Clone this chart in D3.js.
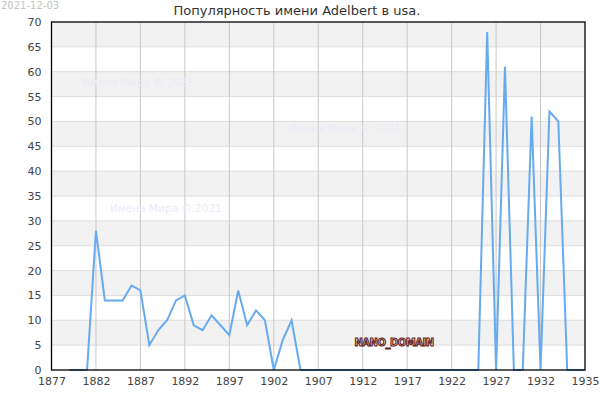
<!DOCTYPE html>
<html><head><meta charset="utf-8">
<script src="https://cdn.jsdelivr.net/npm/d3@7"></script>
<style>body{margin:0;background:#fff}svg{display:block;font-family:"DejaVu Sans",sans-serif}</style>
</head><body><svg id="c" width="600" height="400"></svg>
<script>
const years = [1879,1880,1881,1882,1883,1884,1885,1886,1887,1888,1889,1890,1891,1892,1893,1894,1895,1896,1897,1898,1899,1900,1901,1902,1903,1904,1905,1906,1907,1908,1909,1910,1911,1912,1913,1914,1915,1916,1917,1918,1919,1920,1921,1922,1923,1924,1925,1926,1927,1928,1929,1930,1931,1932,1933,1934,1935,1936,1937];
const counts = [0,0,0,28,14,14,14,17,16,5,8,10,14,15,9,8,11,9,7,16,9,12,10,0,6,10,0,0,0,0,0,0,0,0,0,0,0,0,0,0,0,0,0,0,0,0,0,68,0,61,0,0,51,0,52,50,0,0,0];
const xTickValues = [1877,1882,1887,1892,1897,1902,1907,1912,1917,1922,1927,1932,1937];
const xTickLabels = ["1877","1882","1887","1892","1897","1902","1907","1912","1917","1922","1927","1932","1935"];
const yTickValues = [0,5,10,15,20,25,30,35,40,45,50,55,60,65,70];
const title = "Популярность имени Adelbert в usa.";
const dateLabel = "2021-12-03";
const watermark = "Имена Мира © 2021";

const svg = d3.select("#c");
const L=51.5, R=585, T=22, B=370;
const x = d3.scaleLinear().domain([1877,1937]).range([L,R]);
const y = d3.scaleLinear().domain([0,70]).range([B,T]);

const bands = d3.range(5,70,10);
svg.append("g").selectAll("rect").data(bands).join("rect")
  .attr("x",L).attr("width",R-L)
  .attr("y",d=>y(d+5)).attr("height",d=>y(d)-y(d+5))
  .attr("fill","#f2f2f2");
svg.append("g").selectAll("line").data(yTickValues.slice(1,-1)).join("line")
  .attr("x1",L).attr("x2",R).attr("y1",d=>y(d)).attr("y2",d=>y(d))
  .attr("stroke","#dedede").attr("stroke-width",1);
svg.append("g").selectAll("line").data(xTickValues.slice(1,-1)).join("line")
  .attr("x1",d=>x(d)).attr("x2",d=>x(d)).attr("y1",T).attr("y2",B)
  .attr("stroke","#c8c8c8").attr("stroke-width",1);

const wm = [[82,86],[289,132],[110,212]];
svg.append("g").selectAll("text").data(wm).join("text")
  .attr("x",d=>d[0]).attr("y",d=>d[1]).text(watermark)
  .attr("font-size",10.5).attr("fill","#ebebf7");

svg.append("path").datum(years.map((yr,i)=>[yr,counts[i]]))
  .attr("d",d3.line().x(d=>x(d[0])).y(d=>y(d[1])))
  .attr("fill","none").attr("stroke","#66aaf0").attr("stroke-width",2).attr("stroke-linejoin","miter");

svg.append("rect").attr("x",L).attr("y",T).attr("width",R-L).attr("height",B-T)
  .attr("fill","none").attr("stroke","#000").attr("stroke-width",1.3);

const xa = svg.append("g").attr("transform",`translate(0,${B})`)
  .call(d3.axisBottom(x).tickValues(xTickValues).tickFormat((d,i)=>xTickLabels[i]).tickSize(0).tickPadding(7));
const ya = svg.append("g").attr("transform",`translate(${L},0)`)
  .call(d3.axisLeft(y).tickValues(yTickValues).tickSize(0).tickPadding(10));
[xa,ya].forEach(a=>{a.select(".domain").remove();a.selectAll("text").attr("font-size",11).attr("fill","#444").attr("font-family","DejaVu Sans");});

svg.append("text").attr("x",297).attr("y",15).attr("text-anchor","middle")
  .attr("font-size",13).attr("fill","#333").text(title);
svg.append("text").attr("x",1).attr("y",9).attr("font-size",10).attr("fill","#c4c4c4").text(dateLabel);

svg.append("text").attr("x",394).attr("y",346).attr("text-anchor","middle")
  .attr("font-size",10).attr("font-weight","bold").attr("fill","#e8c8c8")
  .attr("stroke","#5a2222").attr("stroke-width",1).attr("letter-spacing",-0.5).text("NANO_DOMAIN");
</script></body></html>
